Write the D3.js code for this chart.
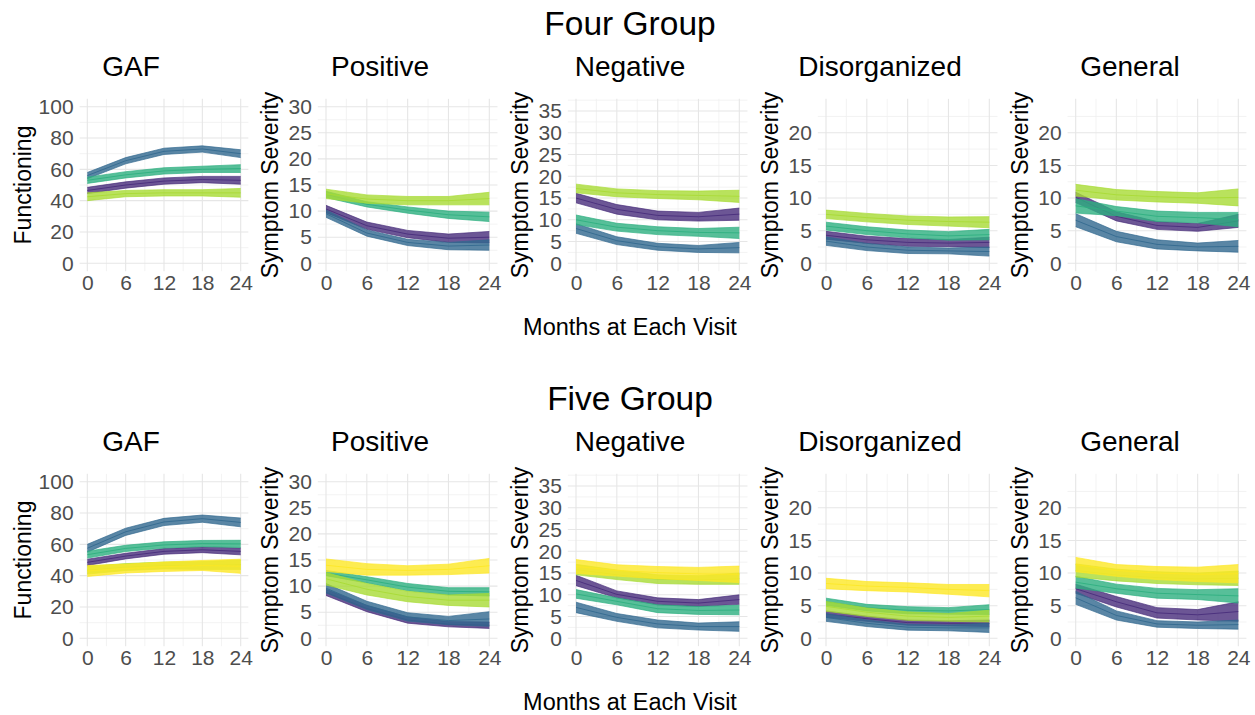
<!DOCTYPE html>
<html>
<head>
<meta charset="utf-8">
<script src="https://cdn.jsdelivr.net/npm/d3@7"></script>
<style>
  html, body { margin: 0; padding: 0; background: #ffffff; }
  svg { display: block; }
  text { font-family: "Liberation Sans", Arial, Helvetica, sans-serif; }
</style>
</head>
<body>
<svg id="chart" width="1255" height="715"></svg>
<script>
// ---- data ----
const months = [0, 6, 12, 18, 24];
const scaleNames = ["GAF", "Positive", "Negative", "Disorganized", "General"];
const yTitles = ["Functioning", "Symptom Severity", "Symptom Severity", "Symptom Severity", "Symptom Severity"];
const yMax = [100, 30, 36, 24, 24];
const yTickValues = [
  [0, 20, 40, 60, 80, 100],
  [0, 5, 10, 15, 20, 25, 30],
  [0, 5, 10, 15, 20, 25, 30, 35],
  [0, 5, 10, 15, 20],
  [0, 5, 10, 15, 20]
];
const xTickValues = [0, 6, 12, 18, 24];
const rowTitles = ["Four Group", "Five Group"];
const xTitle = "Months at Each Visit";
const groupColors = ["#472C7A", "#31688E", "#2DAF7F", "#A8DB34", "#FDE725"];

// Four-group solution: estimated means per group (rows) and visit (columns)
const fourGAF = [[46.5, 50, 52.5, 53.5, 53], [56, 65.5, 71.5, 73, 70], [53, 56.5, 59, 60, 60.5], [42.5, 44.5, 45, 45, 45]];
const fourGAFci = [[2, 2, 2, 2, 2.5], [2, 2, 2, 2, 2.5], [2, 2, 2, 2, 2.5], [2.5, 2, 2, 2, 2.8]];
const fourPos = [[10.4, 7.2, 5.6, 4.8, 5.0], [9.5, 5.8, 4.0, 3.3, 3.5], [13.2, 11.3, 10.2, 9.3, 8.9], [13.3, 12.3, 12.0, 12.0, 12.4]];
const fourPosCi = [[0.7, 0.7, 0.7, 0.8, 1.1], [0.7, 0.6, 0.6, 0.7, 1.0], [0.6, 0.5, 0.6, 0.7, 0.9], [0.9, 0.8, 0.8, 0.8, 1.2]];
const fourNeg = [[15.0, 12.4, 11.0, 10.7, 11.3], [8.0, 5.2, 3.8, 3.3, 3.6], [10.0, 8.3, 7.5, 7.1, 7.0], [17.2, 16.2, 15.8, 15.6, 15.4]];
const fourNegCi = [[1.1, 1.1, 1.0, 1.0, 1.4], [1.1, 0.9, 0.8, 0.8, 1.2], [1.1, 0.9, 0.9, 0.9, 1.3], [1.0, 0.9, 0.9, 1.0, 1.4]];
const fourDis = [[4.3, 3.6, 3.2, 3.1, 3.2], [3.4, 2.5, 2.0, 1.9, 1.8], [5.7, 5.0, 4.5, 4.2, 4.4], [7.5, 7.0, 6.6, 6.4, 6.3]];
const fourDisCi = [[0.6, 0.55, 0.6, 0.55, 0.8], [0.65, 0.55, 0.5, 0.45, 0.7], [0.6, 0.6, 0.6, 0.65, 0.8], [0.65, 0.65, 0.65, 0.7, 0.85]];
const fourGen = [[10.1, 7.2, 5.8, 5.5, 6.5], [6.6, 4.1, 2.9, 2.5, 2.6], [8.8, 8.0, 7.2, 7.0, 6.7], [11.2, 10.5, 10.2, 10.0, 10.1]];
const fourGenCi = [[0.8, 0.7, 0.6, 0.6, 1.0], [1.0, 0.8, 0.7, 0.6, 0.9], [1.1, 0.7, 0.8, 0.8, 1.1], [0.9, 0.8, 0.8, 0.8, 1.3]];

// Five-group solution
const fiveGAF = [[48.5, 52.5, 55.5, 56.5, 55.5], [57.5, 68, 74.3, 76.4, 74], [53.4, 57.4, 59.6, 60.5, 60.3], [43.5, 45.5, 46.5, 46.5, 47], [43, 44.5, 45.7, 46.5, 46]];
const fiveGAFci = [[2, 1.8, 1.8, 1.8, 2.2], [2.5, 2.3, 2.3, 2.3, 2.8], [2.2, 2, 2, 2, 2.3], [2.5, 2.2, 2.2, 2.5, 3], [3.5, 2.8, 3, 3.2, 4.5]];
const fivePos = [[8.8, 5.7, 3.5, 2.7, 2.5], [9.6, 6.3, 4.1, 3.4, 3.7], [12.5, 11.2, 9.8, 9.0, 8.9], [11.4, 9.4, 8.0, 7.3, 7.3], [14.0, 13.2, 13.0, 13.2, 13.9]];
const fivePosCi = [[0.6, 0.6, 0.6, 0.5, 0.6], [0.9, 0.8, 0.8, 0.8, 1.4], [0.5, 0.6, 0.7, 0.7, 0.8], [1.2, 1.1, 1.0, 1.0, 1.3], [1.2, 1.1, 0.9, 1.0, 1.4]];
const fiveNeg = [[13.3, 10.1, 8.5, 8.1, 8.9], [7.1, 4.8, 3.3, 2.7, 2.7], [10.2, 8.5, 6.8, 6.4, 6.5], [15.8, 14.6, 13.6, 13.4, 13.7], [16.5, 15.6, 15.1, 14.8, 14.7]];
const fiveNegCi = [[1.2, 0.8, 0.8, 0.8, 1.1], [1.2, 0.9, 0.9, 0.8, 1.1], [1.0, 0.8, 0.9, 0.9, 1.1], [1.2, 1.1, 1.0, 1.0, 1.3], [1.6, 1.3, 1.4, 1.5, 1.9]];
const fiveDis = [[3.7, 3.0, 2.4, 2.3, 2.3], [3.2, 2.3, 1.7, 1.6, 1.6], [5.6, 4.7, 4.3, 4.2, 4.4], [4.9, 4.0, 3.4, 3.2, 3.4], [8.4, 8.0, 7.8, 7.5, 7.3]];
const fiveDisCi = [[0.5, 0.4, 0.4, 0.4, 0.5], [0.6, 0.5, 0.45, 0.45, 0.7], [0.55, 0.5, 0.55, 0.5, 0.75], [0.75, 0.65, 0.65, 0.6, 0.9], [0.8, 0.7, 0.7, 0.75, 0.95]];
const fiveGen = [[7.6, 5.6, 3.9, 3.6, 4.1], [6.2, 3.5, 2.2, 2.0, 2.1], [8.6, 7.6, 6.9, 6.7, 6.5], [10.4, 9.7, 9.3, 9.1, 9.2], [11.3, 10.4, 10.0, 9.8, 9.9]];
const fiveGenCi = [[0.7, 0.8, 0.8, 0.8, 1.5], [1.0, 0.7, 0.5, 0.5, 0.7], [0.9, 0.7, 0.75, 0.75, 1.1], [1.0, 0.9, 0.9, 0.9, 1.1], [1.1, 0.9, 1.0, 1.1, 1.4]];

const rowMeans = [[fourGAF, fourPos, fourNeg, fourDis, fourGen], [fiveGAF, fivePos, fiveNeg, fiveDis, fiveGen]];
const rowCis = [[fourGAFci, fourPosCi, fourNegCi, fourDisCi, fourGenCi], [fiveGAFci, fivePosCi, fiveNegCi, fiveDisCi, fiveGenCi]];

// ---- layout ----
const svg = d3.select("#chart");
svg.append("rect").attr("width", 1255).attr("height", 715).attr("fill", "#ffffff");

const rowOffset = 375;
const plotTop = 106.7, plotZero = 263.3;          // pixel rows for y max and y = 0
const colLeft = [87.3, 326, 576, 826, 1075.7];     // pixel column for month 0
const colRight = [240.7, 489.3, 739.3, 989.3, 1238.3]; // pixel column for month 24
const subplotCenter = [131, 380, 630, 880, 1130];
const yTitleX = [23, 270, 520, 770, 1020];
const tickColor = "#4d4d4d";

rowTitles.forEach((title, r) => {
  const dy = r * rowOffset;
  svg.append("text")
    .attr("x", 630).attr("y", 35 + dy)
    .attr("text-anchor", "middle")
    .attr("font-size", 33.5).attr("fill", "#000")
    .text(title);

  svg.append("text")
    .attr("x", 630).attr("y", 335 + dy)
    .attr("text-anchor", "middle")
    .attr("font-size", 23.5).attr("fill", "#000")
    .text(xTitle);

  scaleNames.forEach((name, c) => {
    const x = d3.scaleLinear().domain([0, 24]).range([colLeft[c], colRight[c]]);
    const y = d3.scaleLinear().domain([0, yMax[c]]).range([plotZero + dy, plotTop + dy]);
    const xPad = 24 * 0.05, yPad = yMax[c] * 0.05;
    const x0 = x(-xPad), x1 = x(24 + xPad);
    const yT = y(yMax[c] + yPad), yB = y(-yPad);

    const g = svg.append("g");

    // minor grid
    const step = yTickValues[c][1] - yTickValues[c][0];
    const yMinor = d3.range(step / 2, yMax[c] + yPad, step);
    g.selectAll(null).data(yMinor).join("line")
      .attr("x1", x0).attr("x2", x1)
      .attr("y1", d => y(d)).attr("y2", d => y(d))
      .attr("stroke", "#f0f0f0").attr("stroke-width", 0.8);
    g.selectAll(null).data([3, 9, 15, 21]).join("line")
      .attr("x1", d => x(d)).attr("x2", d => x(d))
      .attr("y1", yT).attr("y2", yB)
      .attr("stroke", "#f0f0f0").attr("stroke-width", 0.8);

    // major grid
    g.selectAll(null).data(yTickValues[c]).join("line")
      .attr("x1", x0).attr("x2", x1)
      .attr("y1", d => y(d)).attr("y2", d => y(d))
      .attr("stroke", "#e6e6e6").attr("stroke-width", 1.1);
    g.selectAll(null).data(xTickValues).join("line")
      .attr("x1", d => x(d)).attr("x2", d => x(d))
      .attr("y1", yT).attr("y2", yB)
      .attr("stroke", "#e6e6e6").attr("stroke-width", 1.1);

    // axes (labels only, no domain line or tick marks)
    const yAxis = d3.axisLeft(y).tickValues(yTickValues[c]).tickSize(0).tickPadding(0);
    const ya = g.append("g").attr("transform", `translate(${x0 - 6},0)`).call(yAxis);
    ya.select(".domain").remove();
    ya.selectAll("text").attr("font-size", 21).attr("fill", tickColor)
      .attr("font-family", "Liberation Sans, Arial, sans-serif");

    const xAxis = d3.axisBottom(x).tickValues(xTickValues).tickSize(0).tickPadding(0);
    const xa = g.append("g").attr("transform", `translate(0,${yB + 4})`).call(xAxis);
    xa.select(".domain").remove();
    xa.selectAll("text").attr("font-size", 21).attr("fill", tickColor)
      .attr("font-family", "Liberation Sans, Arial, sans-serif")
      .attr("dy", "0.72em");

    // panel title
    svg.append("text")
      .attr("x", subplotCenter[c]).attr("y", 76 + dy)
      .attr("text-anchor", "middle")
      .attr("font-size", 28).attr("fill", "#000")
      .text(name);

    // y axis title
    svg.append("text")
      .attr("transform", `translate(${yTitleX[c]},${(plotTop + plotZero) / 2 + dy}) rotate(-90)`)
      .attr("text-anchor", "middle")
      .attr("dominant-baseline", "central")
      .attr("font-size", 23).attr("fill", "#000")
      .text(yTitles[c]);

    // ribbons with mean line
    const means = rowMeans[r][c];
    const cis = rowCis[r][c];
    means.forEach((m, gi) => {
      const pts = months.map((t, i) => ({ t, m: m[i], lo: m[i] - cis[gi][i], hi: m[i] + cis[gi][i] }));
      const col = groupColors[gi];
      const area = d3.area().x(d => x(d.t)).y0(d => y(d.lo)).y1(d => y(d.hi));
      g.append("path").attr("d", area(pts))
        .attr("fill", col).attr("fill-opacity", 0.8).attr("stroke", "none");
      ["lo", "m", "hi"].forEach(k => {
        const ln = d3.line().x(d => x(d.t)).y(d => y(d[k]));
        g.append("path").attr("d", ln(pts))
          .attr("fill", "none").attr("stroke", col)
          .attr("stroke-opacity", 0.85)
          .attr("stroke-width", k === "m" ? 1 : 0.8);
      });
    });
  });
});
</script>
</body>
</html>
